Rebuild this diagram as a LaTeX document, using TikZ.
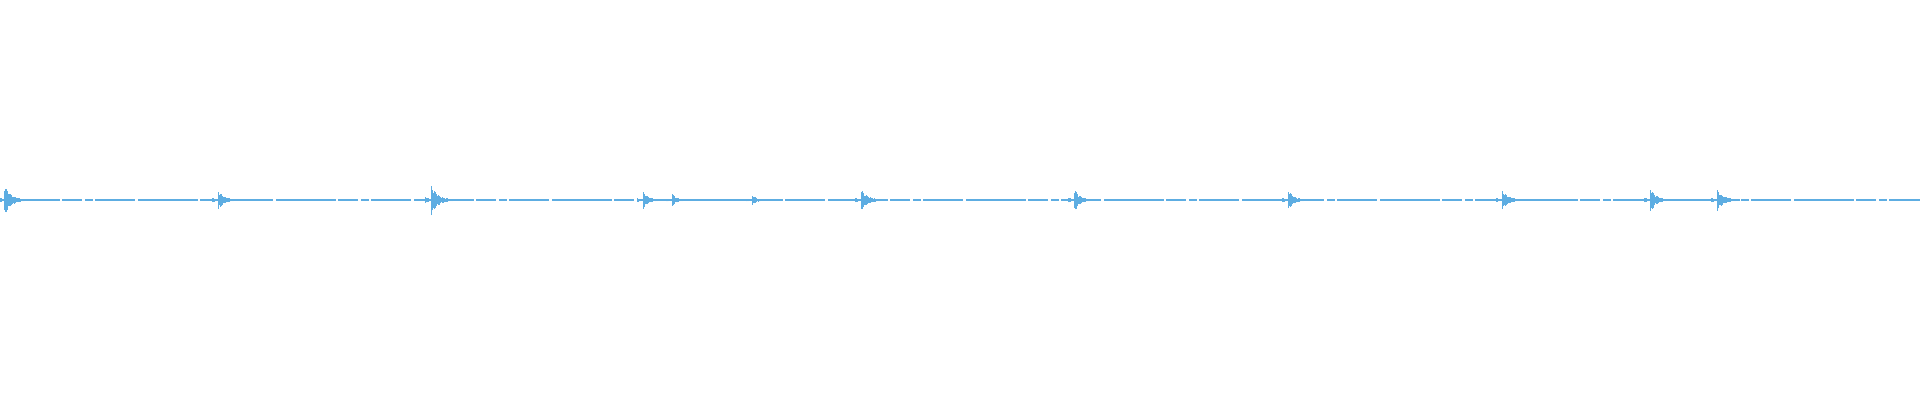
\documentclass[tikz,border=0pt]{standalone}
\definecolor{wave}{RGB}{93,173,226}
\tikzset{wavebar/.style={wave,line width=1pt}}
\begin{document}
\begin{tikzpicture}[x=1pt,y=1pt]
\useasboundingbox (0,0) rectangle (1920,400);
\fill[white] (0,0) rectangle (1920,400);
\draw[wave,line width=1.1pt,dash pattern=on 60pt off 2pt on 20pt off 3pt on 8pt off 2pt on 40pt off 3pt] (0,200) -- (1920,200);
\foreach \bx/\amp/\dec in {4/16/6,218/10/5,431/15/6,643/8/5,672/6/4,752/5/4,861/10/6,1074/12/5,1288/10/5,1502/9/6,1650/13/5,1717/10/6}{
  \foreach \i in {0,...,22}{
    \pgfmathsetmacro{\h}{\amp*exp(-\i/\dec)*(0.55+0.45*abs(sin(\i*137+\bx)))+0.6}
    \draw[wavebar] (\bx+\i,200-\h) -- (\bx+\i,200+\h*0.95);
  }
  \foreach \i in {1,...,6}{
    \pgfmathsetmacro{\h}{\amp*0.15*(\i/6)+0.5}
    \draw[wavebar] (\bx-\i,200-\h) -- (\bx-\i,200+\h);
  }
}
\end{tikzpicture}
\end{document}
